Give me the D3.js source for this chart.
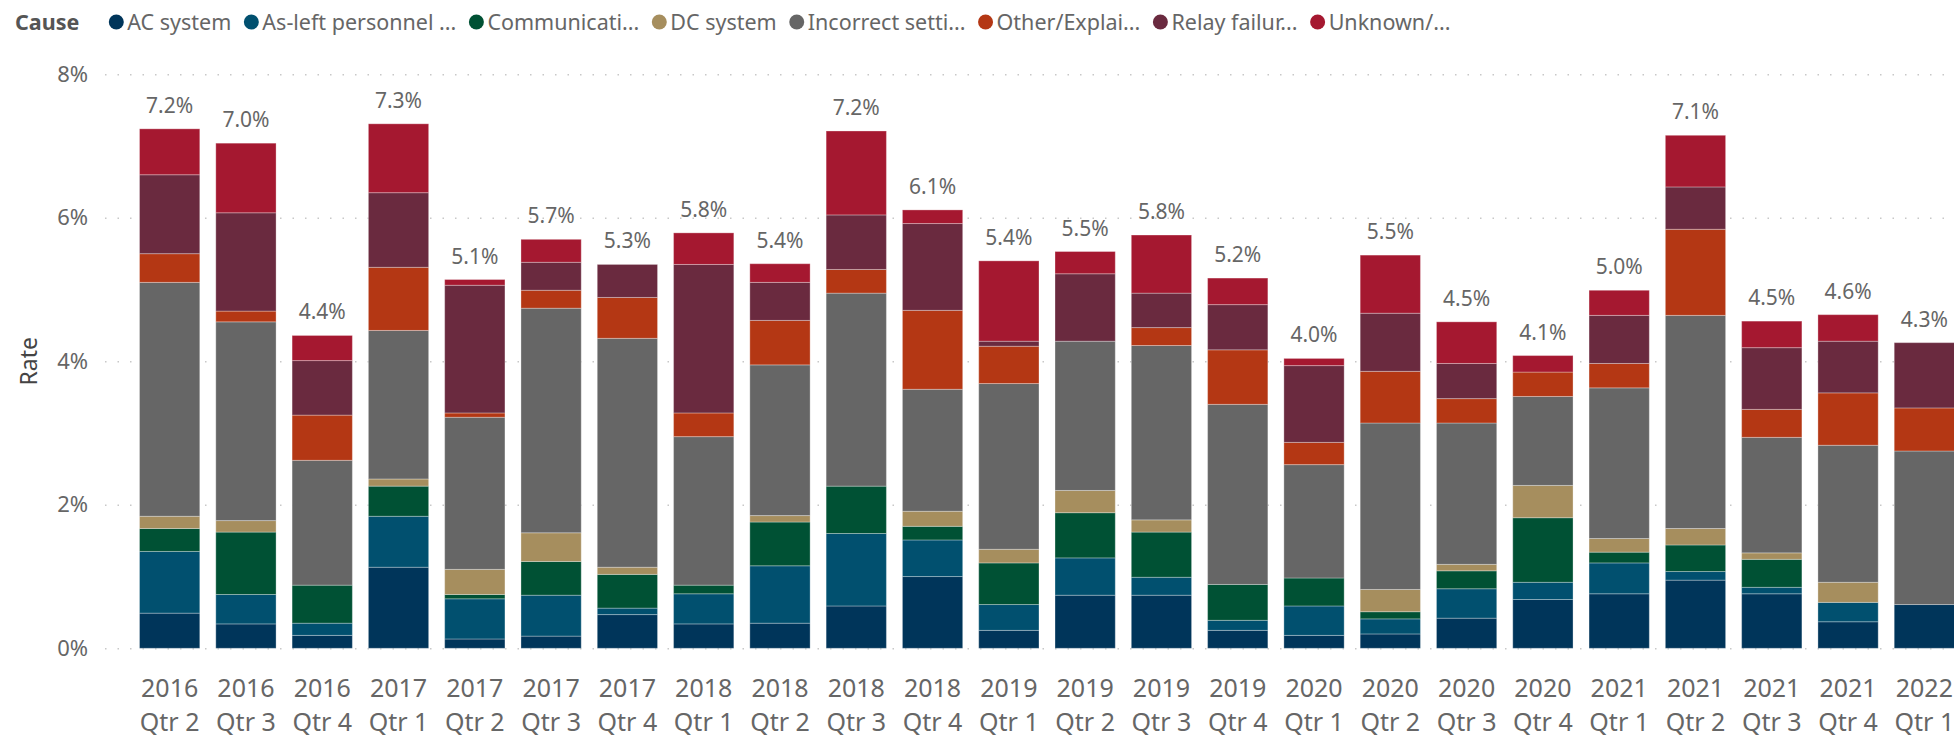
<!DOCTYPE html>
<html>
<head>
<meta charset="utf-8">
<script src="https://cdn.jsdelivr.net/npm/d3@7"></script>
<style>
  body { margin: 0; background: #fff; }
  text { font-family: "Segoe UI", "Noto Sans", sans-serif; }
</style>
</head>
<body>
<script>
// quarters on the x axis
const quarters = ["2016 Qtr 2","2016 Qtr 3","2016 Qtr 4","2017 Qtr 1","2017 Qtr 2","2017 Qtr 3","2017 Qtr 4",
  "2018 Qtr 1","2018 Qtr 2","2018 Qtr 3","2018 Qtr 4","2019 Qtr 1","2019 Qtr 2","2019 Qtr 3","2019 Qtr 4",
  "2020 Qtr 1","2020 Qtr 2","2020 Qtr 3","2020 Qtr 4","2021 Qtr 1","2021 Qtr 2","2021 Qtr 3","2021 Qtr 4","2022 Qtr 1"];

const causes = ["AC system","As-left personnel ...","Communicati...","DC system","Incorrect setti...","Other/Explai...","Relay failur...","Unknown/..."];
const causeColors = ["#00355a","#01506f","#005134","#a68e5e","#666666","#b43714","#6a2a3f","#a51830"];

// rate (%) per cause
const acSystem   = [0.49,0.34,0.18,1.13,0.13,0.17,0.47,0.34,0.35,0.59,1.00,0.25,0.74,0.74,0.25,0.18,0.20,0.42,0.68,0.76,0.95,0.76,0.37,0.61];
const asLeft     = [0.86,0.41,0.17,0.71,0.56,0.57,0.09,0.42,0.80,1.01,0.51,0.36,0.52,0.25,0.14,0.41,0.21,0.41,0.24,0.43,0.12,0.09,0.27,0];
const commun     = [0.32,0.87,0.53,0.42,0.06,0.47,0.47,0.12,0.61,0.66,0.19,0.58,0.63,0.63,0.50,0.39,0.10,0.25,0.90,0.15,0.37,0.39,0,0];
const dcSystem   = [0.17,0.16,0,0.10,0.35,0.40,0.10,0,0.09,0,0.21,0.19,0.31,0.17,0,0,0.31,0.09,0.45,0.19,0.23,0.09,0.28,0];
const incorrect  = [3.26,2.77,1.74,2.07,2.12,3.13,3.19,2.07,2.10,2.69,1.70,2.31,2.08,2.43,2.51,1.58,2.32,1.97,1.24,2.10,2.97,1.61,1.91,2.14];
const otherExpl  = [0.40,0.15,0.63,0.88,0.06,0.25,0.57,0.33,0.62,0.33,1.10,0.52,0,0.25,0.76,0.31,0.72,0.34,0.34,0.34,1.20,0.39,0.73,0.60];
const relayFail  = [1.10,1.37,0.76,1.04,1.78,0.39,0.46,2.07,0.53,0.76,1.21,0.07,0.94,0.48,0.63,1.07,0.81,0.49,0,0.67,0.59,0.86,0.72,0.91];
const unknown    = [0.64,0.97,0.35,0.96,0.08,0.32,0,0.44,0.26,1.17,0.19,1.12,0.31,0.81,0.37,0.10,0.81,0.58,0.23,0.35,0.72,0.37,0.37,0];

const totalLabels = ["7.2%","7.0%","4.4%","7.3%","5.1%","5.7%","5.3%","5.8%","5.4%","7.2%","6.1%","5.4%",
  "5.5%","5.8%","5.2%","4.0%","5.5%","4.5%","4.1%","5.0%","7.1%","4.5%","4.6%","4.3%"];

const yTicks = [0, 2, 4, 6, 8];

const seriesValues = [acSystem, asLeft, commun, dcSystem, incorrect, otherExpl, relayFail, unknown];
const rows = quarters.map((q, i) => {
  const r = { quarter: q, label: totalLabels[i] };
  causes.forEach((c, k) => { r[c] = seriesValues[k][i]; });
  return r;
});

const W = 1954, H = 737;
const svg = d3.select("body").append("svg")
  .attr("width", W)
  .attr("height", H);

const x = d3.scaleBand()
  .domain(quarters)
  .range([131.5, 1962.5])
  .paddingInner(0.21)
  .paddingOuter(0.105);

const y = d3.scaleLinear()
  .domain([0, 8])
  .range([648.3, 74.3]);

// gridlines + y labels
const yAxis = svg.append("g")
  .attr("transform", "translate(105,0)")
  .call(d3.axisLeft(y)
    .tickValues(yTicks)
    .tickFormat(d => d + "%")
    .tickSizeInner(-(W - 105))
    .tickSizeOuter(0)
    .tickPadding(17));
yAxis.select(".domain").remove();
yAxis.selectAll("line")
  .attr("stroke", "#c8c8c8")
  .attr("stroke-width", 1.5)
  .attr("stroke-dasharray", "1.5,11");
yAxis.selectAll("text")
  .attr("fill", "#666")
  .style("font-size", "22px");

svg.append("text")
  .attr("transform", "translate(37," + y(4) + ") rotate(-90)")
  .attr("text-anchor", "middle")
  .attr("fill", "#444")
  .style("font-size", "23px")
  .text("Rate");

// stacked bars
const stack = d3.stack().keys(causes);
const layers = stack(rows);

svg.append("g")
  .selectAll("g")
  .data(layers)
  .join("g")
  .attr("fill", (d, i) => causeColors[i])
  .selectAll("rect")
  .data(d => d)
  .join("rect")
  .attr("x", d => x(d.data.quarter))
  .attr("width", x.bandwidth())
  .attr("y", d => y(d[1]))
  .attr("height", d => y(d[0]) - y(d[1]))
  .attr("stroke", "rgba(255,255,255,0.3)")
  .attr("stroke-width", 1);

// total labels
svg.append("g")
  .selectAll("text")
  .data(rows)
  .join("text")
  .attr("x", d => x(d.quarter) + x.bandwidth() / 2)
  .attr("y", d => y(d3.sum(causes, c => d[c])) - 16)
  .attr("text-anchor", "middle")
  .attr("fill", "#666")
  .style("font-size", "21px")
  .text(d => d.label);

// x labels, two lines
const xl = svg.append("g")
  .selectAll("text")
  .data(quarters)
  .join("text")
  .attr("x", d => x(d) + x.bandwidth() / 2)
  .attr("text-anchor", "middle")
  .attr("fill", "#666")
  .style("font-size", "25px");
xl.append("tspan")
  .attr("x", d => x(d) + x.bandwidth() / 2)
  .attr("y", 697)
  .text(d => d.split(" ")[0]);
xl.append("tspan")
  .attr("x", d => x(d) + x.bandwidth() / 2)
  .attr("y", 731)
  .text(d => d.split(" ").slice(1).join(" "));

// legend
const legend = svg.append("g").attr("transform", "translate(0,22)");
const title = legend.append("text")
  .attr("x", 15)
  .attr("dy", "0.35em")
  .attr("fill", "#555")
  .style("font-size", "21.5px")
  .style("font-weight", "bold")
  .text("Cause");
let cursor = 15 + title.node().getComputedTextLength() + 30;
causes.forEach((c, i) => {
  legend.append("circle")
    .attr("cx", cursor + 7)
    .attr("cy", 0)
    .attr("r", 7.5)
    .attr("fill", causeColors[i]);
  const t = legend.append("text")
    .attr("x", cursor + 18)
    .attr("dy", "0.35em")
    .attr("fill", "#666")
    .style("font-size", "21.5px")
    .text(c);
  cursor += 18 + t.node().getComputedTextLength() + 13;
});
</script>
</body>
</html>
